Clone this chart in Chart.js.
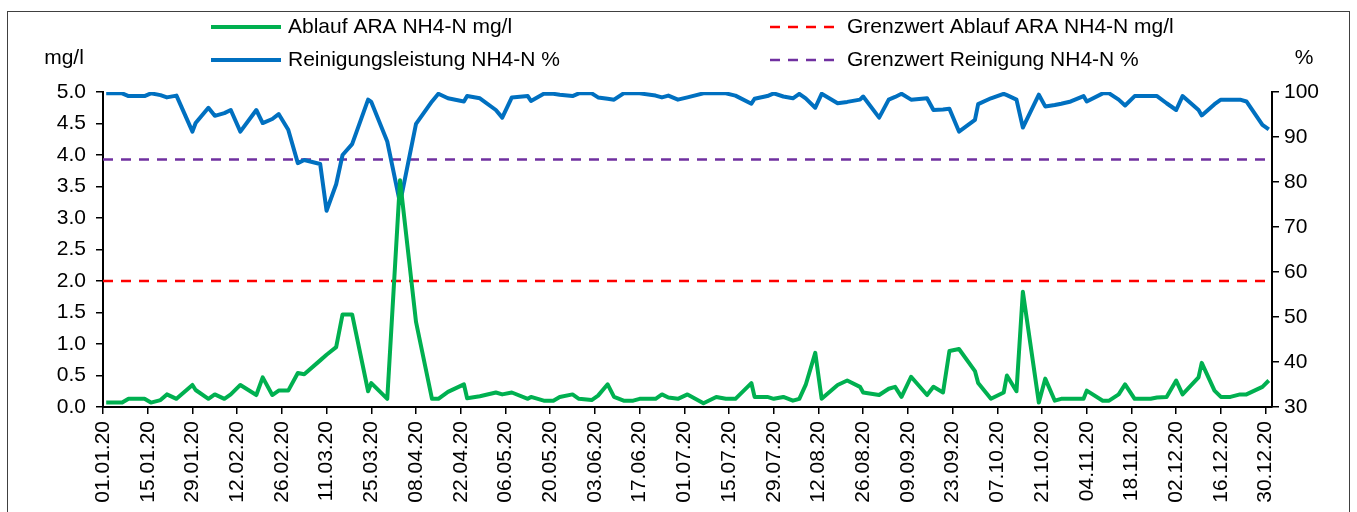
<!DOCTYPE html>
<html>
<head>
<meta charset="utf-8">
<script src="https://cdn.jsdelivr.net/npm/chart.js@4.4.1/dist/chart.umd.min.js"></script>
<style>
  html, body { margin: 0; padding: 0; background: #fff; }
  #wrap { position: relative; width: 1357px; height: 512px; }
</style>
</head>
<body>
<div id="wrap"><canvas id="nh4Chart" width="1357" height="512"></canvas></div>
<script>
// Messtage als Tag im Jahr 2020 (0 = 01.01.20)
const days = [1, 6, 8, 13, 15, 18, 20, 23, 28, 29, 33, 35, 38, 40, 43, 48, 50, 53, 55, 58,
  61, 63, 68, 70, 73, 75, 78, 83, 84, 89, 93, 98, 103, 105, 108, 113, 114, 118, 123, 125,
  128, 133, 134, 138, 141, 143, 147, 149, 153, 155, 158, 160, 163, 166, 168, 173, 175, 177, 180, 183,
  188, 192, 195, 198, 203, 204, 208, 210, 213, 216, 218, 220, 223, 225, 230, 233, 237, 238, 243, 246,
  248, 250, 253, 258, 260, 263, 265, 268, 273, 274, 278, 282, 283, 286, 288, 293, 295, 298, 300, 303,
  307, 308, 313, 315, 318, 320, 323, 328, 330, 333, 336, 338, 343, 344, 348, 350, 353, 356, 358, 363, 365];

// Ablauf ARA NH4-N mg/l
const ablaufNH4 = [0.07, 0.07, 0.13, 0.13, 0.07, 0.11, 0.20, 0.13, 0.35, 0.27, 0.13, 0.20, 0.13, 0.20, 0.35, 0.19, 0.47, 0.19, 0.26, 0.26,
  0.54, 0.52, 0.74, 0.83, 0.95, 1.47, 1.47, 0.25, 0.38, 0.13, 3.60, 1.35, 0.13, 0.13, 0.24, 0.36, 0.14, 0.17, 0.23, 0.20,
  0.23, 0.13, 0.16, 0.10, 0.10, 0.16, 0.20, 0.13, 0.11, 0.18, 0.36, 0.16, 0.10, 0.10, 0.13, 0.13, 0.20, 0.15, 0.13, 0.20,
  0.06, 0.16, 0.13, 0.13, 0.38, 0.16, 0.16, 0.13, 0.16, 0.10, 0.13, 0.35, 0.86, 0.13, 0.35, 0.42, 0.32, 0.23, 0.19, 0.29,
  0.32, 0.16, 0.48, 0.19, 0.32, 0.23, 0.89, 0.92, 0.57, 0.38, 0.13, 0.23, 0.50, 0.25, 1.83, 0.07, 0.45, 0.10, 0.13, 0.13,
  0.13, 0.26, 0.10, 0.10, 0.20, 0.36, 0.13, 0.13, 0.15, 0.16, 0.42, 0.20, 0.47, 0.70, 0.26, 0.16, 0.16, 0.20, 0.20, 0.32, 0.42];

// Reinigungsleistung NH4-N %
const reinigungNH4 = [99.7, 99.7, 99.1, 99.1, 99.7, 99.3, 98.8, 99.2, 91.2, 93.1, 96.5, 94.7, 95.3, 96.0, 91.2, 96.0, 93.1, 94.0, 95.1, 91.6,
  84.2, 84.9, 84.0, 73.6, 79.5, 86.0, 88.4, 98.3, 97.8, 89.0, 75.3, 92.9, 97.9, 99.6, 98.6, 97.9, 99.1, 98.6, 96.0, 94.3,
  98.8, 99.1, 98.0, 99.6, 99.6, 99.4, 99.1, 99.7, 99.7, 98.8, 98.5, 98.3, 99.7, 99.7, 99.7, 99.2, 98.8, 99.2, 98.3, 98.8,
  99.7, 99.7, 99.7, 99.2, 97.4, 98.5, 99.1, 99.7, 99.0, 98.6, 99.6, 98.6, 96.5, 99.6, 97.5, 97.8, 98.3, 99.0, 94.3, 98.3,
  98.9, 99.6, 98.3, 98.6, 96.0, 96.1, 96.3, 91.2, 93.8, 97.3, 98.6, 99.6, 99.3, 98.3, 92.1, 99.4, 96.8, 97.1, 97.4, 97.9,
  99.1, 97.9, 99.7, 99.7, 98.3, 97.0, 99.1, 99.1, 99.1, 97.5, 96.0, 99.1, 96.0, 94.8, 97.3, 98.3, 98.3, 98.3, 97.9, 92.7, 91.7];

const grenzAblauf = 2.0;     // mg/l
const grenzReinigung = 85;   // %

const xTickLabels = ["01.01.20", "15.01.20", "29.01.20", "12.02.20", "26.02.20", "11.03.20", "25.03.20",
  "08.04.20", "22.04.20", "06.05.20", "20.05.20", "03.06.20", "17.06.20", "01.07.20", "15.07.20",
  "29.07.20", "12.08.20", "26.08.20", "09.09.20", "23.09.20", "07.10.20", "21.10.20", "04.11.20",
  "18.11.20", "02.12.20", "16.12.20", "30.12.20"];
const xTickDays = xTickLabels.map((l, i) => i * 14);
const leftTicks = [0, 0.5, 1, 1.5, 2, 2.5, 3, 3.5, 4, 4.5, 5];
const rightTicks = [30, 40, 50, 60, 70, 80, 90, 100];

const X_MAX = 366;
const FONT = "'Liberation Sans', Arial, sans-serif";
Chart.defaults.font.family = FONT;
Chart.defaults.font.size = 21;
Chart.defaults.color = '#000';

const toPoints = (xs, ys) => xs.map((d, i) => ({ x: d, y: ys[i] }));

// Rahmen, Achsentitel und Legende in zwei Spalten
const decorPlugin = {
  id: 'decor',
  afterDraw(chart) {
    const c = chart.ctx;
    c.save();
    c.strokeStyle = '#404040';
    c.lineWidth = 1;
    c.strokeRect(7.5, 11.5, 1342, 600);

    c.fillStyle = '#000';
    c.font = '21px ' + FONT;
    c.textBaseline = 'middle';
    c.textAlign = 'center';
    c.fillText('mg/l', 64, 58);
    c.fillText('%', 1304, 58);

    const colX = [211, 770];
    const rowY = [27, 60];
    c.textAlign = 'left';
    chart.data.datasets.forEach((ds, i) => {
      const x = colX[i % 2], y = rowY[Math.floor(i / 2)];
      c.beginPath();
      c.strokeStyle = ds.borderColor;
      c.lineWidth = ds.borderWidth;
      c.setLineDash(ds.borderDash || []);
      c.moveTo(x, y);
      c.lineTo(x + 70, y);
      c.stroke();
      c.setLineDash([]);
      c.fillText(ds.label, x + 77, y);
    });
    c.restore();
  }
};

const axisBase = {
  grid: { drawOnChartArea: false, color: '#000', lineWidth: 1.5, tickLength: 7 },
  border: { color: '#000', width: 2 }
};

new Chart(document.getElementById('nh4Chart'), {
  type: 'line',
  data: {
    datasets: [
      { label: 'Ablauf ARA NH4-N mg/l', data: toPoints(days, ablaufNH4),
        borderColor: '#00B050', borderWidth: 4, yAxisID: 'y' },
      { label: 'Grenzwert Ablauf ARA NH4-N mg/l', data: toPoints([0, X_MAX], [grenzAblauf, grenzAblauf]),
        borderColor: '#FF0000', borderWidth: 2.5, borderDash: [10, 8], yAxisID: 'y' },
      { label: 'Reinigungsleistung NH4-N %', data: toPoints(days, reinigungNH4),
        borderColor: '#0070C0', borderWidth: 4, yAxisID: 'y1' },
      { label: 'Grenzwert Reinigung NH4-N %', data: toPoints([0, X_MAX], [grenzReinigung, grenzReinigung]),
        borderColor: '#7030A0', borderWidth: 2.5, borderDash: [10, 8], yAxisID: 'y1' }
    ]
  },
  options: {
    responsive: false,
    animation: false,
    layout: { padding: { top: 92 } },
    elements: { point: { radius: 0 }, line: { tension: 0, borderJoinStyle: 'round' } },
    plugins: { legend: { display: false }, tooltip: { enabled: false } },
    scales: {
      x: {
        ...axisBase,
        type: 'linear', min: 0, max: X_MAX,
        afterBuildTicks: s => { s.ticks = xTickDays.map(v => ({ value: v })); },
        afterFit: s => { s.height = 105; },
        ticks: { autoSkip: false, minRotation: 90, maxRotation: 90, padding: 7,
          callback: (v, i) => xTickLabels[i] }
      },
      y: {
        ...axisBase,
        position: 'left', min: 0, max: 5,
        afterBuildTicks: s => { s.ticks = leftTicks.map(v => ({ value: v })); },
        afterFit: s => { s.width = 103; },
        ticks: { padding: 10, callback: v => v.toFixed(1) }
      },
      y1: {
        ...axisBase,
        position: 'right', min: 30, max: 100,
        afterBuildTicks: s => { s.ticks = rightTicks.map(v => ({ value: v })); },
        afterFit: s => { s.width = 85; },
        ticks: { padding: 5 }
      }
    }
  },
  plugins: [decorPlugin]
});
</script>
</body>
</html>
